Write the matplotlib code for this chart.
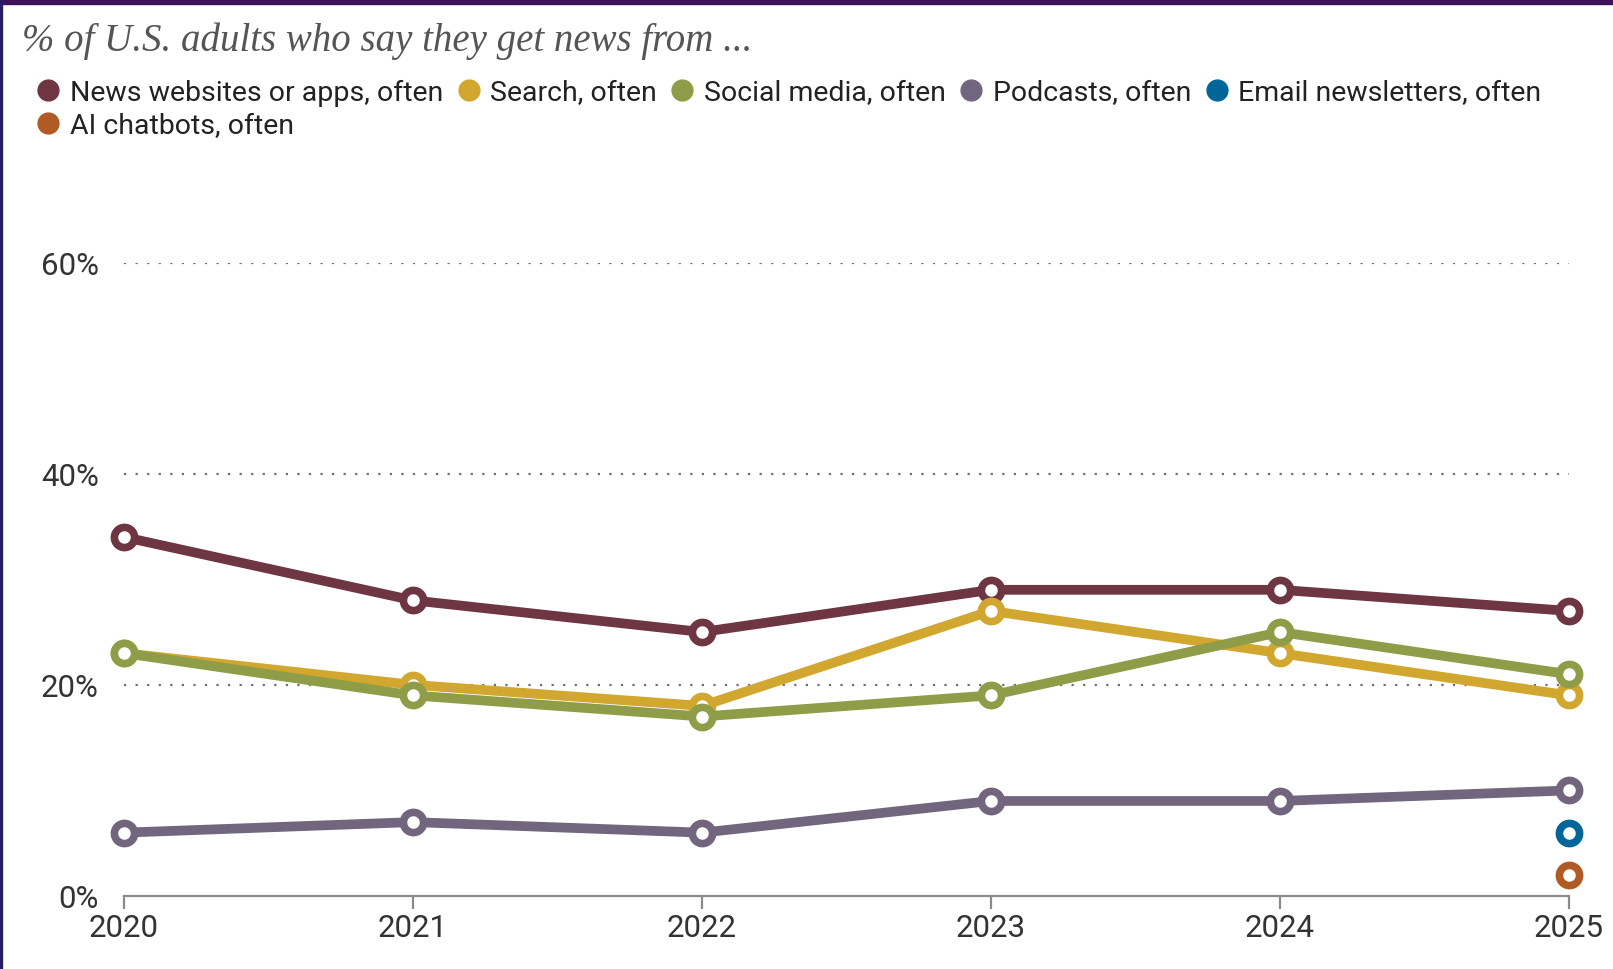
import matplotlib
matplotlib.use("Agg")
import matplotlib.pyplot as plt
from matplotlib.lines import Line2D
from matplotlib.patches import Rectangle

years = [2020, 2021, 2022, 2023, 2024, 2025]
news_sites = [34, 28, 25, 29, 29, 27]
search = [23, 20, 18, 27, 23, 19]
social_media = [23, 19, 17, 19, 25, 21]
podcasts = [6, 7, 6, 9, 9, 10]
email_year = [2025]
email_newsletters = [6]
ai_year = [2025]
ai_chatbots = [2]

labels = ["News websites or apps, often", "Search, often", "Social media, often",
          "Podcasts, often", "Email newsletters, often", "AI chatbots, often"]
colors = ["#6e3543", "#d1a730", "#8f9c48", "#72667f", "#006699", "#b05a24"]

W, H = 1613, 970
fig = plt.figure(figsize=(W / 100, H / 100), dpi=100)
fig.patch.set_facecolor("white")

# frame bits of the screenshot
fig.patches.append(Rectangle((0, 1 - 5 / H), 1, 5 / H, transform=fig.transFigure,
                             color="#3d1259", zorder=10))
fig.patches.append(Rectangle((0, 0), 2 / W, 1, transform=fig.transFigure,
                             color="#2b1c68", zorder=10))

left, right = 124, 1569
bottom, top = H - 897, H - 263.5
ax = fig.add_axes([left / W, bottom / H, (right - left) / W, (top - bottom) / H])

series = [(years, news_sites), (years, search), (years, social_media),
          (years, podcasts), (email_year, email_newsletters), (ai_year, ai_chatbots)]
for (xs, ys), c in zip(series, colors):
    ax.plot(xs, ys, color=c, lw=7, marker="o", ms=14.5, mew=5.5,
            mfc="white", mec=c, clip_on=False, zorder=3, solid_capstyle="round")

ax.set_xlim(2020, 2025)
ax.set_ylim(0, 60)
ax.set_xticks(years)
ax.set_xticklabels([str(y) for y in years])
ax.set_yticks([0, 20, 40, 60])
ax.set_yticklabels(["0%", "20%", "40%", "60%"])

for s in ["top", "right", "left"]:
    ax.spines[s].set_visible(False)
ax.spines["bottom"].set_color("#8a8a8a")
ax.spines["bottom"].set_linewidth(1.6)

ax.tick_params(axis="x", length=9.5, width=1.6, color="#8a8a8a", pad=3,
               labelsize=22.5, labelcolor="#333333")
ax.tick_params(axis="y", length=0, pad=18, labelsize=22.5, labelcolor="#333333")
for t in ax.get_xticklabels() + ax.get_yticklabels():
    t.set_fontfamily("Roboto")

for v in [20, 40, 60]:
    ax.axhline(v, color="#6f6f6f", lw=1.6, ls=(0, (1, 4.2)), zorder=1)

fig.text(22 / W, 1 - 41 / H, "% of U.S. adults who say they get news from ...",
         fontfamily="Liberation Serif", style="italic", fontsize=28,
         color="#555555", va="center", ha="left")

# legend fills column by column, so order items to get the wrapped row layout
order = [0, 5, 1, 2, 3, 4]
handles = [Line2D([], [], ls="none", marker="o", ms=15, mfc=colors[i], mec=colors[i])
           for i in order]
fig.legend(handles, [labels[i] for i in order], ncol=5, loc="upper left",
           bbox_to_anchor=(37 / W, 1 - 80 / H), frameon=False,
           prop={"family": "Roboto", "size": 20.5}, labelcolor="#222222",
           handlelength=0.8, handletextpad=0.35, columnspacing=0.5,
           labelspacing=0.22, borderpad=0, borderaxespad=0)

fig.savefig("out.png", dpi=100)
